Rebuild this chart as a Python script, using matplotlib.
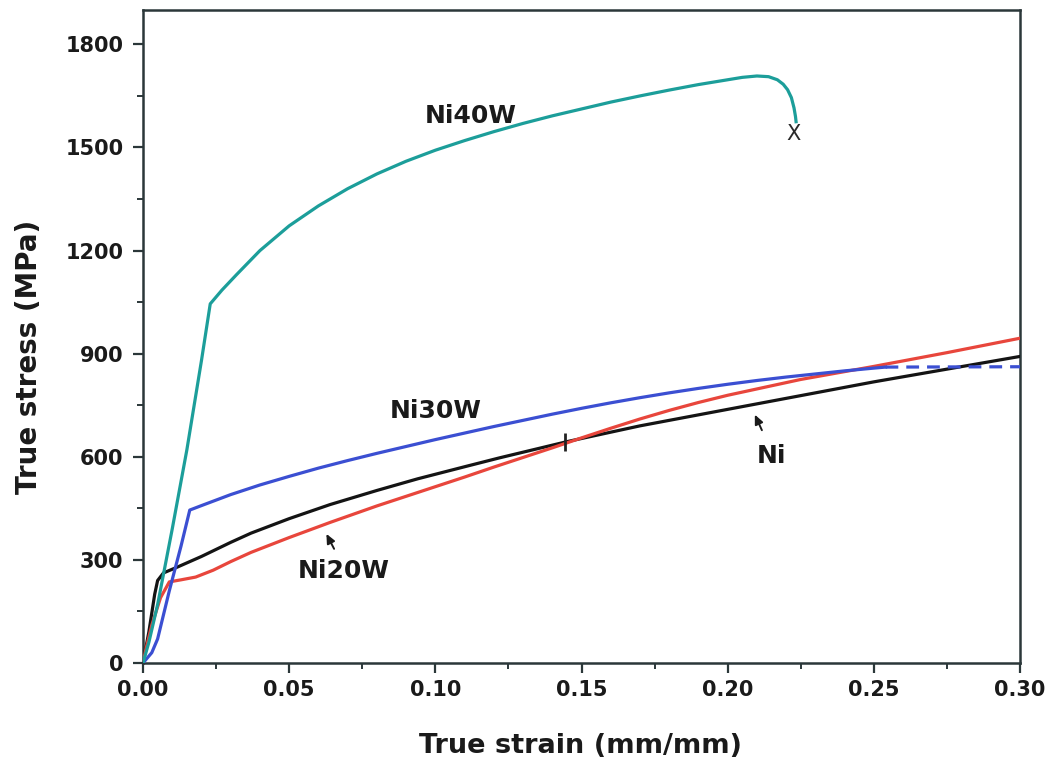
import matplotlib
matplotlib.use("Agg")
import matplotlib.pyplot as plt
from matplotlib.ticker import MultipleLocator

# ---- data ----
ni40w_x = [0, 0.002, 0.005, 0.010, 0.015, 0.020, 0.023, 0.027, 0.032, 0.040, 0.050,
           0.060, 0.070, 0.080, 0.090, 0.100, 0.110, 0.120, 0.130, 0.140, 0.150,
           0.160, 0.170, 0.180, 0.190, 0.200, 0.205, 0.210, 0.214, 0.217, 0.219,
           0.2205, 0.2218, 0.2227, 0.2232, 0.2234]
ni40w_y = [0, 60, 170, 390, 620, 880, 1045, 1085, 1130, 1200, 1272,
           1330, 1380, 1423, 1460, 1492, 1520, 1546, 1570, 1592, 1612,
           1632, 1650, 1667, 1683, 1697, 1704, 1708, 1706, 1697, 1684,
           1668, 1645, 1615, 1590, 1575]

ni30w_x = [0, 0.003, 0.005, 0.009, 0.013, 0.016, 0.020, 0.030, 0.040, 0.050, 0.060,
           0.070, 0.080, 0.090, 0.100, 0.110, 0.120, 0.130, 0.140, 0.150, 0.160,
           0.170, 0.180, 0.190, 0.200, 0.210, 0.220, 0.230, 0.240, 0.250, 0.254]
ni30w_y = [0, 30, 70, 210, 340, 445, 458, 490, 518, 543, 567,
           589, 610, 630, 650, 669, 688, 706, 724, 741, 757,
           772, 786, 799, 811, 822, 832, 841, 850, 858, 861]
ni30w_dash_x = [0.254, 0.300]
ni30w_dash_y = [861, 862]

ni_x = [0, 0.002, 0.004, 0.005, 0.007, 0.012, 0.020, 0.030, 0.037, 0.050, 0.064,
        0.080, 0.094, 0.110, 0.122, 0.145, 0.170, 0.200, 0.225, 0.250, 0.275, 0.300]
ni_y = [0, 90, 200, 240, 262, 280, 310, 351, 378, 420, 461,
        502, 536, 571, 597, 644, 690, 738, 778, 818, 855, 892]

ni20w_x = [0, 0.001, 0.003, 0.006, 0.009, 0.013, 0.018, 0.024, 0.030, 0.037, 0.050,
           0.064, 0.080, 0.090, 0.100, 0.110, 0.120, 0.130, 0.140, 0.150, 0.160,
           0.170, 0.180, 0.190, 0.200, 0.225, 0.250, 0.275, 0.300]
ni20w_y = [0, 40, 110, 190, 236, 242, 250, 270, 295, 322, 365,
           409, 457, 485, 513, 541, 570, 598, 626, 655, 683,
           710, 735, 758, 779, 825, 863, 903, 945]

fracture_x, fracture_y = 0.2226, 1540
cross_mark_x, cross_mark_y = 0.1445, 643

x_ticks = [0.00, 0.05, 0.10, 0.15, 0.20, 0.25, 0.30]
x_tick_labels = ["0.00", "0.05", "0.10", "0.15", "0.20", "0.25", "0.30"]
y_ticks = [0, 300, 600, 900, 1200, 1500, 1800]
y_tick_labels = ["0", "300", "600", "900", "1200", "1500", "1800"]

# ---- figure ----
plt.rcParams['font.family'] = ['DejaVu Sans']
fig = plt.figure(figsize=(10.52, 7.65), dpi=100)
ax = fig.add_axes([143/1052, 1 - 663/765, (1020-143)/1052, (663-10)/765])

teal = '#1c9e9a'
blue = '#3b4fd2'
red = '#e8463c'
black = '#141414'
lw = 2.3

ax.plot(ni_x, ni_y, color=black, lw=lw, zorder=3, solid_joinstyle='round')
ax.plot(ni20w_x, ni20w_y, color=red, lw=lw, zorder=4, solid_joinstyle='round')
ax.plot(ni30w_x, ni30w_y, color=blue, lw=lw, zorder=5, solid_joinstyle='round')
ax.plot(ni30w_dash_x, ni30w_dash_y, color=blue, lw=lw, ls=(0, (4, 2.5)), zorder=5)
ax.plot(ni40w_x, ni40w_y, color=teal, lw=lw, zorder=5, solid_joinstyle='round')

ax.plot([cross_mark_x], [cross_mark_y], marker='|', markersize=13, mew=2,
        color='#222222', zorder=6)
ax.text(fracture_x, fracture_y, "X", fontsize=15, color='#2a2a2a',
        ha='center', va='center', zorder=6)

ax.set_xlim(0, 0.30)
ax.set_ylim(0, 1900)
ax.set_xticks(x_ticks)
ax.set_xticklabels(x_tick_labels)
ax.set_yticks(y_ticks)
ax.set_yticklabels(y_tick_labels)
ax.xaxis.set_minor_locator(MultipleLocator(0.025))
ax.yaxis.set_minor_locator(MultipleLocator(150))

spine_color = '#2b3739'
for s in ax.spines.values():
    s.set_color(spine_color)
    s.set_linewidth(1.8)

ax.tick_params(which='major', direction='out', length=7, width=1.6,
               color=spine_color, labelsize=15)
ax.tick_params(axis='y', which='major', pad=7)
ax.tick_params(axis='x', which='major', pad=5)
ax.tick_params(which='minor', direction='out', length=4.5, width=1.4,
               color=spine_color)
for lab in ax.get_xticklabels() + ax.get_yticklabels():
    lab.set_fontweight('bold')
    lab.set_color('#1a1a1a')

ax.set_xlabel("True strain (mm/mm)", fontsize=19.5, fontweight='bold', color='#1a1a1a')
ax.set_ylabel("True stress (MPa)", fontsize=20, fontweight='bold', color='#1a1a1a')
ax.xaxis.set_label_coords(0.4994, -0.107)
ax.yaxis.set_label_coords(-0.114, 0.469)

lab_kw = dict(fontsize=18, fontweight='bold', color='#1a1a1a', ha='center', va='center')
ax.text(0.112, 1592, "Ni40W", **lab_kw)
ax.text(0.1003, 733, "Ni30W", **lab_kw)
ax.text(0.215, 603, "Ni", **lab_kw)
ax.text(0.0688, 267, "Ni20W", **lab_kw)

arrow_kw = dict(arrowstyle='-|>,head_length=0.55,head_width=0.25', color='#1a1a1a', lw=1.4)
ax.annotate("", xy=(0.2089, 730), xytext=(0.2121, 670), arrowprops=arrow_kw)
ax.annotate("", xy=(0.0623, 383), xytext=(0.0658, 325), arrowprops=arrow_kw)

fig.savefig("out.png", dpi=100)
